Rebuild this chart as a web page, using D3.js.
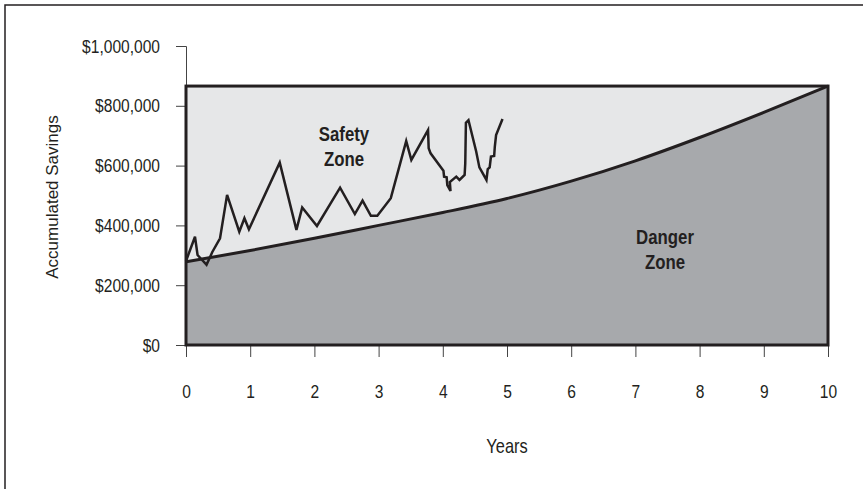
<!DOCTYPE html>
<html>
<head>
<meta charset="utf-8">
<script src="https://cdn.jsdelivr.net/npm/d3@7"></script>
<style>
	body { margin: 0; background: #fff; }
	svg { display: block; }
	text { font-family: 'Liberation Sans', Arial, sans-serif; }
</style>
</head>
<body>
<div class="chart"></div>
<script>
// years on the x axis
const years = [0, 1, 2, 3, 4, 5, 6, 7, 8, 9, 10]
// minimum savings needed each year (the curve between the zones)
const dangerLine = [278000, 316000, 357000, 400000, 443000, 490000, 548000, 616000, 694000, 778000, 866000]
// top of the safety zone
const safetyTop = 866000
// actual savings path
const pathYears = [0, 0.14, 0.18, 0.32, 0.41, 0.53, 0.64, 0.83, 0.91, 0.98, 1.46, 1.72, 1.81, 2.04, 2.40, 2.63, 2.75, 2.88, 2.98,
	3.19, 3.43, 3.51, 3.77, 3.78, 3.81, 4.01, 4.02, 4.06, 4.07, 4.12, 4.11, 4.21, 4.26, 4.34, 4.35, 4.36, 4.40,
	4.52, 4.57, 4.68, 4.70, 4.73, 4.75, 4.80, 4.81, 4.83, 4.93]
const pathValues = [281000, 362000, 301000, 268000, 311000, 357000, 502000, 379000, 424000, 387000, 610000, 385000, 460000, 398000, 526000, 438000, 483000, 432000, 432000,
	491000, 682000, 619000, 719000, 658000, 641000, 583000, 563000, 561000, 535000, 515000, 545000, 563000, 552000, 569000, 608000, 743000, 752000,
	647000, 594000, 552000, 588000, 594000, 630000, 632000, 663000, 702000, 756000]
const yTicks = [0, 200000, 400000, 600000, 800000, 1000000]

const width = 863
const height = 489
const margin = {top: 46, right: 35, bottom: 144, left: 186}
const squeeze = 0.82 // narrow the type like a condensed face

const svg = d3.select('.chart')
	.append('svg')
	.attr('width', width)
	.attr('height', height)

const x = d3.scaleLinear().domain([0, 10]).range([margin.left, width - margin.right])
const y = d3.scaleLinear().domain([0, 1000000]).range([height - margin.bottom, margin.top])

const ink = '#231f20'

// frame (top and left only)
svg.append('path')
	.attr('d', `M5,${height} L5,5 L${width},5`)
	.attr('fill', 'none')
	.attr('stroke', ink)
	.attr('stroke-width', 1.5)

// y axis
const yAxis = svg.append('g')
	.attr('transform', `translate(${x(0)},0)`)
	.call(d3.axisLeft(y).tickValues(yTicks).tickSize(10).tickFormat(d => '$' + d3.format(',')(d)))
yAxis.select('.domain').attr('stroke', '#444')
yAxis.selectAll('.tick line').attr('stroke', '#444')
yAxis.selectAll('text')
	.attr('x', -26 / squeeze)
	.attr('transform', `scale(${squeeze},1)`)
	.attr('font-family', "'Liberation Sans', Arial, sans-serif")
	.attr('font-size', '19px')
	.attr('fill', ink)

// x axis
const xAxis = svg.append('g')
	.attr('transform', `translate(0,${y(0)})`)
	.call(d3.axisBottom(x).tickValues(years).tickSize(12).tickPadding(28))
xAxis.select('.domain').remove()
xAxis.selectAll('.tick line').attr('stroke', '#444')
xAxis.selectAll('text')
	.attr('transform', `scale(${squeeze},1)`)
	.attr('font-family', "'Liberation Sans', Arial, sans-serif")
	.attr('font-size', '19px')
	.attr('fill', ink)

// safety zone background
svg.append('rect')
	.attr('x', x(0))
	.attr('y', y(safetyTop))
	.attr('width', x(10) - x(0))
	.attr('height', y(0) - y(safetyTop))
	.attr('fill', '#e6e7e8')

const dangerData = years.map((d, i) => ({year: d, value: dangerLine[i]}))

// danger zone
svg.append('path')
	.datum(dangerData)
	.attr('d', d3.area().x(d => x(d.year)).y0(y(0)).y1(d => y(d.value)).curve(d3.curveMonotoneX))
	.attr('fill', '#a7a9ac')

svg.append('path')
	.datum(dangerData)
	.attr('d', d3.line().x(d => x(d.year)).y(d => y(d.value)).curve(d3.curveMonotoneX))
	.attr('fill', 'none')
	.attr('stroke', ink)
	.attr('stroke-width', 3)

// box outline
svg.append('rect')
	.attr('x', x(0))
	.attr('y', y(safetyTop))
	.attr('width', x(10) - x(0))
	.attr('height', y(0) - y(safetyTop))
	.attr('fill', 'none')
	.attr('stroke', ink)
	.attr('stroke-width', 3)

// savings path
const pathData = pathYears.map((d, i) => ({year: d, value: pathValues[i]}))
svg.append('path')
	.datum(pathData)
	.attr('d', d3.line().x(d => x(d.year)).y(d => y(d.value)))
	.attr('fill', 'none')
	.attr('stroke', ink)
	.attr('stroke-width', 2.5)
	.attr('stroke-linejoin', 'miter')

// zone labels
const zoneLabels = [
	{lines: ['Safety', 'Zone'], x: 344, y: 141},
	{lines: ['Danger', 'Zone'], x: 665, y: 244}
]
zoneLabels.forEach(l => {
	l.lines.forEach((t, i) => {
		svg.append('text')
			.text(t)
			.attr('transform', `translate(${l.x},${l.y + i * 25}) scale(${squeeze},1)`)
			.attr('text-anchor', 'middle')
			.attr('font-size', '20.5px')
			.attr('font-weight', 'bold')
			.attr('fill', ink)
	})
})

// axis titles
svg.append('text')
	.text('Accumulated Savings')
	.attr('transform', `translate(58,197) rotate(-90)`)
	.attr('text-anchor', 'middle')
	.attr('font-size', '17px')
	.attr('fill', ink)

svg.append('text')
	.text('Years')
	.attr('transform', `translate(${x(5)},453) scale(${squeeze},1)`)
	.attr('text-anchor', 'middle')
	.attr('font-size', '20px')
	.attr('fill', ink)
</script>
</body>
</html>
